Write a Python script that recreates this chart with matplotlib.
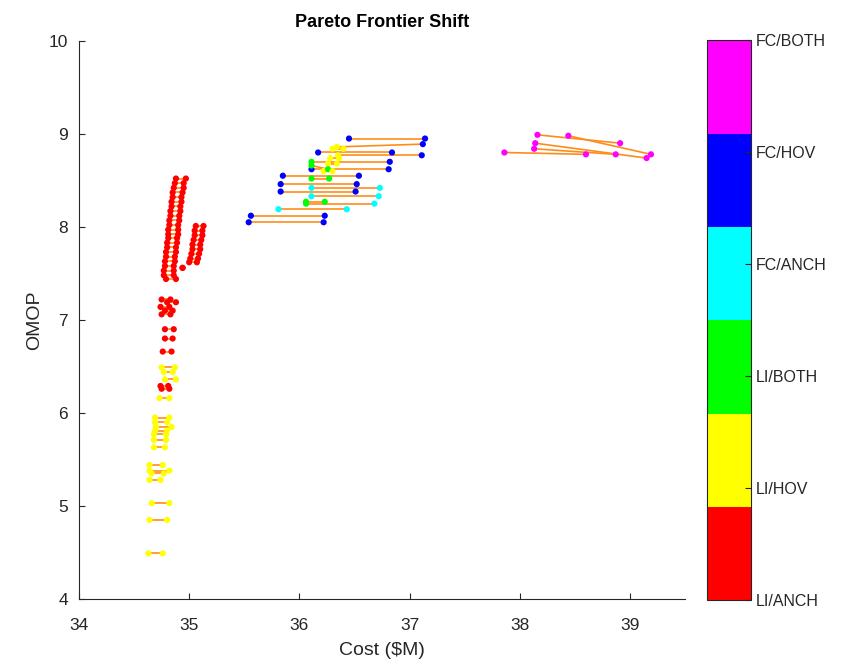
import numpy as np
import matplotlib.pyplot as plt
from matplotlib.colors import ListedColormap

plt.rcParams['font.family'] = ['Liberation Sans', 'DejaVu Sans']

# category codes: 1 LI/ANCH, 2 LI/HOV, 3 LI/BOTH, 4 FC/ANCH, 5 FC/HOV, 6 FC/BOTH
cat_labels = ['LI/ANCH', 'LI/HOV', 'LI/BOTH', 'FC/ANCH', 'FC/HOV', 'FC/BOTH']
cat_colors = ['#ff0000', '#ffff00', '#00ff00', '#00ffff', '#0000ff', '#ff00ff']

# LI/ANCH frontier (red), each row is one shifted pair at a fixed OMOP
red_omop = [8.52, 8.47, 8.42, 8.37, 8.32, 8.27, 8.22, 8.17, 8.12, 8.07, 8.02, 7.97,
            7.92, 7.88, 7.83, 7.78, 7.73, 7.68, 7.63, 7.58, 7.53, 7.48, 7.44,
            8.01, 7.96, 7.91, 7.86, 7.81, 7.76, 7.71, 7.66, 7.62, 7.56,
            7.22, 7.19, 7.14, 7.10, 7.06, 6.90, 6.80, 6.66, 6.29, 6.26]
red_cost0 = [34.88, 34.87, 34.86, 34.85, 34.85, 34.84, 34.84, 34.83, 34.83, 34.82, 34.82, 34.81,
             34.81, 34.81, 34.80, 34.80, 34.79, 34.79, 34.78, 34.78, 34.77, 34.77, 34.79,
             35.06, 35.05, 35.05, 35.04, 35.03, 35.03, 35.02, 35.01, 35.00, 34.94,
             34.75, 34.80, 34.74, 34.78, 34.75, 34.78, 34.78, 34.76, 34.74, 34.75]
red_cost1 = [34.97, 34.95, 34.95, 34.94, 34.93, 34.93, 34.92, 34.92, 34.91, 34.91, 34.90, 34.90,
             34.90, 34.89, 34.89, 34.88, 34.88, 34.87, 34.87, 34.86, 34.86, 34.86, 34.88,
             35.13, 35.12, 35.12, 35.11, 35.10, 35.10, 35.09, 35.08, 35.07, 34.94,
             34.83, 34.88, 34.82, 34.85, 34.83, 34.86, 34.85, 34.84, 34.81, 34.82]

# LI/HOV frontier (yellow)
yel_omop = [6.49, 6.44, 6.36, 6.16, 5.95, 5.90, 5.85, 5.81, 5.77, 5.71, 5.63,
            5.44, 5.38, 5.35, 5.28, 5.03, 4.85, 4.49]
yel_cost0 = [34.75, 34.77, 34.78, 34.73, 34.69, 34.69, 34.70, 34.69, 34.68, 34.68, 34.68,
             34.64, 34.64, 34.66, 34.64, 34.66, 34.64, 34.63]
yel_cost1 = [34.87, 34.85, 34.88, 34.82, 34.82, 34.80, 34.84, 34.80, 34.79, 34.79, 34.78,
             34.76, 34.82, 34.77, 34.74, 34.82, 34.80, 34.76]

# mixed middle cluster: start/end cost, start/end OMOP, start/end category
mid_cost0 = [36.45, 36.34, 36.17, 36.35, 36.11, 36.11, 36.11, 35.85, 36.11, 35.83, 36.11,
             35.83, 36.11, 36.06, 36.06, 35.81, 35.56, 35.54, 36.30, 36.28, 36.26, 36.22]
mid_cost1 = [37.14, 37.12, 36.84, 37.11, 36.82, 36.81, 36.26, 36.54, 36.27, 36.52, 36.73,
             36.51, 36.72, 36.23, 36.68, 36.43, 36.23, 36.22, 36.40, 36.36, 36.34, 36.30]
mid_omop0 = [8.95, 8.86, 8.80, 8.77, 8.70, 8.62, 8.66, 8.55, 8.52, 8.46, 8.42,
             8.38, 8.33, 8.27, 8.25, 8.19, 8.12, 8.05, 8.84, 8.74, 8.68, 8.60]
mid_omop1 = [8.95, 8.89, 8.80, 8.77, 8.70, 8.62, 8.62, 8.55, 8.52, 8.46, 8.42,
             8.38, 8.33, 8.27, 8.25, 8.19, 8.12, 8.05, 8.84, 8.74, 8.68, 8.60]
mid_cat0 = [5, 2, 5, 2, 3, 5, 3, 5, 3, 5, 4, 5, 4, 3, 3, 4, 5, 5, 2, 2, 2, 2]
mid_cat1 = [5, 5, 5, 5, 5, 5, 3, 5, 3, 5, 4, 5, 4, 3, 4, 4, 5, 5, 2, 2, 2, 2]

# FC/BOTH frontier (magenta)
mag_cost0 = [38.16, 38.44, 38.14, 38.13, 37.86]
mag_cost1 = [38.91, 39.19, 39.15, 38.87, 38.60]
mag_omop0 = [8.99, 8.98, 8.90, 8.84, 8.80]
mag_omop1 = [8.90, 8.78, 8.74, 8.78, 8.78]

# collect everything into start/end arrays
x0 = np.array(red_cost0 + yel_cost0 + mid_cost0 + mag_cost0)
x1 = np.array(red_cost1 + yel_cost1 + mid_cost1 + mag_cost1)
y0 = np.array(red_omop + yel_omop + mid_omop0 + mag_omop0)
y1 = np.array(red_omop + yel_omop + mid_omop1 + mag_omop1)
c0 = np.array([1] * len(red_omop) + [2] * len(yel_omop) + mid_cat0 + [6] * len(mag_cost0))
c1 = np.array([1] * len(red_omop) + [2] * len(yel_omop) + mid_cat1 + [6] * len(mag_cost1))

cmap = ListedColormap(cat_colors)

fig = plt.figure(figsize=(8.49, 6.70), dpi=100)
ax = fig.add_axes([0.093, 0.106, 0.714, 0.833])

for i in range(len(x0)):
    ax.plot([x0[i], x1[i]], [y0[i], y1[i]], color='#ff8c1a', lw=1.2, zorder=1)

sc = ax.scatter(x0, y0, c=c0, cmap=cmap, vmin=1, vmax=6, s=20, edgecolors='none', zorder=2)
ax.scatter(x1, y1, c=c1, cmap=cmap, vmin=1, vmax=6, s=20, edgecolors='none', zorder=2)

ax.set_xlim(34, 39.5)
ax.set_ylim(4, 10)
ax.set_xticks([34, 35, 36, 37, 38, 39])
ax.set_yticks([4, 5, 6, 7, 8, 9, 10])
for s in ['top', 'right']:
    ax.spines[s].set_visible(False)
for s in ['left', 'bottom']:
    ax.spines[s].set_color('#262626')
ax.tick_params(direction='in', length=4, labelsize=12.5, colors='#262626')
ax.tick_params(axis='x', pad=14)
ax.tick_params(axis='y', pad=8)
ax.set_xlabel('Cost ($M)', fontsize=14, color='#262626', labelpad=6)
ax.set_ylabel('OMOP', fontsize=14, color='#262626', labelpad=4)
ax.set_title('Pareto Frontier Shift', fontsize=13, fontweight='bold', pad=10)

cax = fig.add_axes([0.833, 0.104, 0.051, 0.836])
cb = fig.colorbar(sc, cax=cax, ticks=[1, 2, 3, 4, 5, 6])
cb.ax.set_yticklabels(cat_labels)
cb.ax.tick_params(direction='in', length=4, labelsize=11.5, colors='#262626')
cb.outline.set_edgecolor('#262626')

fig.savefig('out.png', dpi=100)
